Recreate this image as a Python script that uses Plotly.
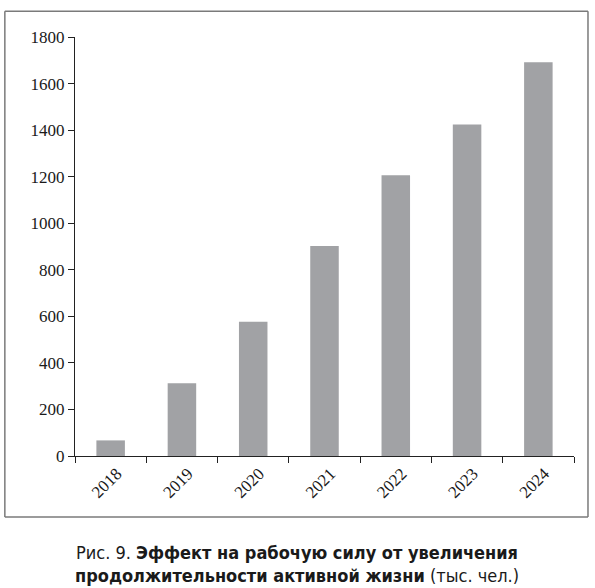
import plotly.graph_objects as go

years = ['2018', '2019', '2020', '2021', '2022', '2023', '2024']
effect = [67, 313, 577, 902, 1206, 1424, 1692]
y_ticks = [0, 200, 400, 600, 800, 1000, 1200, 1400, 1600, 1800]

W, H = 595, 588
L, R, T, B = 74.7, 21, 36.7, 132
pw, ph = W - L - R, H - T - B

def px(x):
    return (x - L) / pw

def py(y):
    return (H - B - y) / ph

fig = go.Figure(go.Bar(x=years, y=effect, width=0.4, marker_color='#a1a2a5',
                       marker_line_width=0))

axis_font = dict(family='Liberation Serif, Times New Roman, serif', size=17, color='#1a1a1a')
fig.update_xaxes(type='category', showline=True, linecolor='#222', linewidth=1.3,
                 ticks='outside', ticklen=6, tickcolor='#222', tickwidth=1.2,
                 tickson='boundaries', tickangle=-45, tickfont=axis_font, showgrid=False,
                 ticklabelshift=6)
fig.update_yaxes(range=[0, 1800], tickvals=y_ticks, showline=True, linecolor='#222',
                 linewidth=1.3, ticks='outside', ticklen=6, tickcolor='#222', tickwidth=1.2,
                 tickfont=axis_font, showgrid=False, zeroline=False)

# outer frame around the chart, one edge at a time
frame = dict(color='#7a7a7a', width=1.5)
fx0, fx1, fy0, fy1 = px(4.5), px(588), py(11), py(517)
for x0, y0, x1, y1 in [(fx0, fy0, fx1, fy0), (fx1, fy0, fx1, fy1),
                       (fx1, fy1, fx0, fy1), (fx0, fy1, fx0, fy0)]:
    fig.add_shape(type='line', xref='paper', yref='paper',
                  x0=x0, y0=y0, x1=x1, y1=y1, line=frame)

caption = ('Рис. 9. <b>Эффект на рабочую силу от увеличения</b><br>'
           '<b>продолжительности активной жизни</b> (тыс. чел.)')
fig.add_annotation(text=caption, xref='paper', yref='paper', x=px(297), y=py(564),
                   xanchor='center', yanchor='middle', showarrow=False, align='center',
                   font=dict(family='DejaVu Sans Condensed, Roboto, sans-serif',
                             size=18, color='#1a1a1a'))

fig.update_layout(width=W, height=H, margin=dict(l=L, r=R, t=T, b=B),
                  plot_bgcolor='white', paper_bgcolor='white', showlegend=False)
# drop the default page margin so the figure sits at the window's corner
fig.write_html('out.html', config={'displayModeBar': False},
               post_script="document.body.style.margin='0';"
               "document.body.style.overflow='hidden';")
